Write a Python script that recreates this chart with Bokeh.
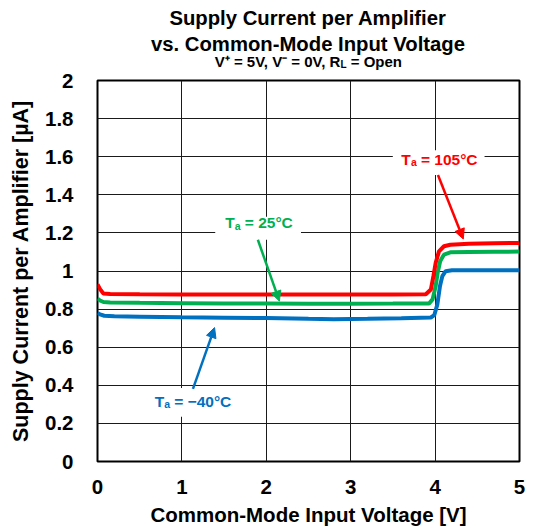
from bokeh.plotting import figure
from bokeh.models import Range1d, FixedTicker, Label, Arrow, NormalHead
from bokeh.embed import file_html
from bokeh.resources import INLINE

# Supply current per amplifier [uA] vs. common-mode input voltage [V]
vcm_105 = [0.0, 0.03, 0.07, 0.15, 0.5, 1.0, 1.5, 2.0, 2.5, 3.0, 3.5, 3.89, 3.95, 3.98, 4.007, 4.046, 4.105, 4.18, 4.4, 4.7, 5.0]
iq_105 = [0.93, 0.905, 0.882, 0.879, 0.878, 0.877, 0.877, 0.876, 0.876, 0.876, 0.877, 0.878, 0.903, 0.973, 1.043, 1.103, 1.13, 1.138, 1.143, 1.146, 1.147]

vcm_25 = [0.0, 0.03, 0.07, 0.15, 0.5, 1.0, 1.5, 2.0, 2.5, 3.0, 3.5, 3.93, 3.97, 4.007, 4.03, 4.06, 4.105, 4.18, 4.4, 4.7, 5.0]
iq_25 = [0.855, 0.845, 0.837, 0.835, 0.833, 0.831, 0.829, 0.829, 0.828, 0.828, 0.829, 0.830, 0.851, 0.921, 0.99, 1.051, 1.086, 1.098, 1.1, 1.101, 1.102]

vcm_m40 = [0.0, 0.03, 0.08, 0.2, 0.5, 1.0, 1.5, 2.0, 2.5, 2.8, 3.2, 3.6, 3.95, 3.99, 4.027, 4.058, 4.086, 4.125, 4.2, 4.5, 5.0]
iq_m40 = [0.78, 0.772, 0.765, 0.762, 0.76, 0.757, 0.755, 0.753, 0.749, 0.747, 0.749, 0.752, 0.756, 0.768, 0.825, 0.921, 0.973, 0.999, 1.004, 1.004, 1.004]

x_ticks = [0, 1, 2, 3, 4, 5]
y_ticks = [0, 0.2, 0.4, 0.6, 0.8, 1, 1.2, 1.4, 1.6, 1.8, 2]
y_tick_labels = ["0", "0.2", "0.4", "0.6", "0.8", "1", "1.2", "1.4", "1.6", "1.8", "2"]

RED = "#FF0000"
GREEN = "#00B050"
BLUE = "#0070C0"
FONT = "Liberation Sans"

p = figure(width=540, height=528, output_backend="svg", toolbar_location=None,
           x_range=Range1d(0, 5), y_range=Range1d(0, 2),
           min_border_left=96, min_border_right=21, min_border_top=80, min_border_bottom=65)
p.background_fill_color = "white"
p.border_fill_color = "white"
p.outline_line_color = "black"
p.outline_line_width = 2

for ax in (p.xaxis[0], p.yaxis[0]):
    ax.axis_line_color = None
    ax.major_tick_line_color = None
    ax.minor_tick_line_color = None
    ax.major_label_text_font = FONT
    ax.major_label_text_font_style = "bold"
    ax.major_label_text_font_size = "20.5px"
    ax.major_label_text_color = "black"
    ax.axis_label_text_font = FONT
    ax.axis_label_text_font_style = "bold"
    ax.axis_label_text_color = "black"

p.xaxis.axis_label_text_font_size = "20.5px"
p.yaxis.axis_label_text_font_size = "21.5px"
p.xaxis.ticker = FixedTicker(ticks=x_ticks)
p.yaxis.ticker = FixedTicker(ticks=y_ticks)
p.yaxis.major_label_overrides = dict(zip(y_ticks, y_tick_labels))
p.xaxis.axis_label = "Common-Mode Input Voltage [V]"
p.yaxis.axis_label = "Supply Current per Amplifier [µA]"
p.xaxis.major_label_standoff = 12
p.xaxis.axis_label_standoff = 6
p.yaxis.major_label_standoff = 18
p.yaxis.axis_label_standoff = 9

p.xgrid.grid_line_color = "#1a1a1a"
p.ygrid.grid_line_color = "#1a1a1a"
p.xgrid.grid_line_width = 1
p.ygrid.grid_line_width = 1

# white patches behind the curve annotations (hide the grid there)
p.quad(left=[3.499, 1.395, 0.556], right=[4.586, 2.411, 1.678],
       bottom=[1.504, 1.164, 0.235], top=[1.634, 1.285, 0.386],
       fill_color="white", line_color=None)

p.line(vcm_m40, iq_m40, line_color=BLUE, line_width=4)
p.line(vcm_25, iq_25, line_color=GREEN, line_width=4)
p.line(vcm_105, iq_105, line_color=RED, line_width=4)


def make_label(x, y, s, size, color="black", align="left", dx=0, dy=0, units="data"):
    return Label(x=x, y=y, text=s, x_offset=dx, y_offset=dy,
                 x_units=units, y_units=units,
                 text_font=FONT, text_font_style="bold",
                 text_font_size=size, text_color=color,
                 text_align=align, text_baseline="alphabetic")


def temp_label(x, y, rest, color):
    p.add_layout(make_label(x, y, "T", "15.5px", color, dy=7))
    p.add_layout(make_label(x, y, "a", "10.5px", color, dx=9.6, dy=4))
    p.add_layout(make_label(x, y, rest, "15.5px", color, dx=19.6, dy=7))


temp_label(3.60, 1.551, "= 105°C", RED)
temp_label(1.513, 1.217, "= 25°C", GREEN)
temp_label(0.677, 0.280, "= −40°C", BLUE)

for (x0, y0, x1, y1, c) in [(4.034, 1.504, 4.334, 1.168, RED),
                            (1.90, 1.164, 2.155, 0.842, GREEN),
                            (1.131, 0.381, 1.387, 0.703, BLUE)]:
    p.add_layout(Arrow(x_start=x0, y_start=y0, x_end=x1, y_end=y1,
                       line_color=c, line_width=2.5,
                       end=NormalHead(size=10, fill_color=c, line_color=c)))

# title block, positioned in canvas pixels
title_parts = [
    (307.5, 17.3, "Supply Current per Amplifier", "20.3px", "center", "above"),
    (307.5, 43.3, "vs. Common-Mode Input Voltage", "20.3px", "center", "above"),
    (339.9, 60.5, "V⁺ = 5V, V⁻ = 0V, R", "15px", "right", "above"),
    (339.9, 63.5, "L", "10px", "left", "left"),
    (350.2, 60.5, "= Open", "15px", "left", "above"),
]
for (tx, ty, s, size, align, side) in title_parts:
    p.add_layout(make_label(tx, ty, s, size, align=align, units="canvas"), side)

open("out.html", "w").write(file_html(p, INLINE))
